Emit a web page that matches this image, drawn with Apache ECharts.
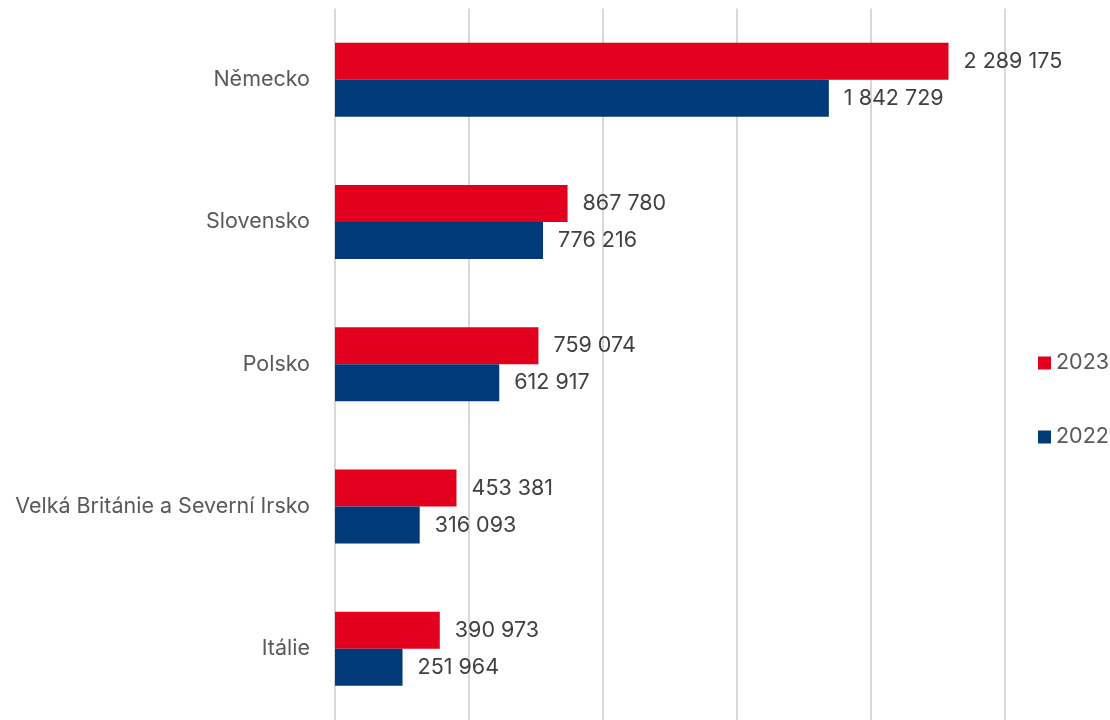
<!DOCTYPE html>
<html>
<head>
<meta charset="utf-8">
<script src="https://cdn.jsdelivr.net/npm/echarts@6/dist/echarts.min.js"></script>
<style>html,body{margin:0;padding:0;background:#fff}#c{width:1110px;height:720px}</style>
</head>
<body>
<div id="c"></div>
<script>
const categories = ["Německo", "Slovensko", "Polsko", "Velká Británie a Severní Irsko", "Itálie"];
const values2023 = [2289175, 867780, 759074, 453381, 390973];
const values2022 = [1842729, 776216, 612917, 316093, 251964];
const seriesNames = ["2023", "2022"];

const fmt = v => String(v).replace(/\B(?=(\d{3})+(?!\d))/g, ' ');
const FONT = 'Inter, "Open Sans", sans-serif';

const chart = echarts.init(document.getElementById('c'), null, {renderer: 'canvas'});
const labelCfg = {
  show: true, position: 'right', distance: 15,
  formatter: p => fmt(p.value),
  color: '#404040', fontSize: 21.5, fontFamily: FONT
};
chart.setOption({
  animation: false,
  backgroundColor: '#fff',
  grid: {left: 335, right: 105, top: 8.5, height: 716, containLabel: false},
  legend: {
    orient: 'vertical', left: 1033, top: 347,
    itemWidth: 13, itemHeight: 13, itemGap: 52,
    icon: 'rect',
    data: seriesNames,
    textStyle: {color: '#595959', fontSize: 21.5, fontFamily: FONT}
  },
  xAxis: {
    type: 'value', min: 0, max: 2500000, interval: 500000,
    axisLabel: {show: false}, axisLine: {show: false}, axisTick: {show: false},
    splitLine: {lineStyle: {color: '#d9d9d9', width: 2}}
  },
  yAxis: {
    type: 'category', data: categories, inverse: true,
    axisLine: {show: false}, axisTick: {show: false},
    axisLabel: {color: '#595959', fontSize: 21.5, fontFamily: FONT, margin: 25}
  },
  series: [
    {name: seriesNames[0], type: 'bar', data: values2023, barWidth: 37, barGap: '0%',
     itemStyle: {color: '#e3001e'}, label: labelCfg},
    {name: seriesNames[1], type: 'bar', data: values2022, barWidth: 37, barGap: '0%',
     itemStyle: {color: '#003a78'}, label: labelCfg}
  ]
});
</script>
</body>
</html>
